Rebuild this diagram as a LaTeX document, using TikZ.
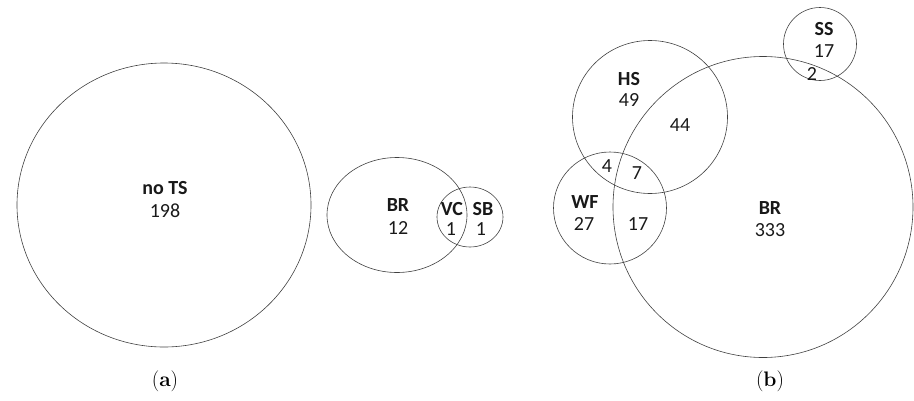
\documentclass[tikz,border=0pt]{standalone}
\usepackage{fontspec}
\newfontfamily\lblfont{Carlito}
\usetikzlibrary{shapes.geometric}
\tikzset{
  setline/.style={draw=black!75, line width=0.6pt, ellipse, inner sep=0pt, outer sep=0pt},
  lbl/.style={font=\lblfont\fontsize{20}{23}\selectfont, inner sep=0pt, anchor=center, text=black!90},
  blbl/.style={lbl, font=\lblfont\bfseries\fontsize{20}{23}\selectfont},
  captxt/.style={font=\fontsize{21}{24}\selectfont, inner sep=0pt}
}
\begin{document}
\begin{tikzpicture}[x=1pt,y=-1pt]
\useasboundingbox (0,0) rectangle (914,400);
% (a)
\node[setline, minimum width=294pt, minimum height=284pt] (noTS) at (164,205) {};
\node[setline, minimum width=140pt, minimum height=115pt] (BRa) at (397,215) {};
\node[setline, minimum width=66pt, minimum height=60pt] (VCSB) at (470,217) {};
\node[blbl] (tnoTS) at (165,188) {no TS};
\node[lbl] (n198) at (165,211) {198};
\node[blbl] (tBRa) at (398,205) {BR};
\node[lbl] (n12) at (398,228) {12};
\node[blbl] (tVC) at (452,209) {VC};
\node[blbl] (tSB) at (483,209) {SB};
\node[lbl] (n1a) at (451,229) {1};
\node[lbl] (n1b) at (481,229) {1};
\node[captxt] (capa) at (165,381) {(\textbf{a})};
% (b)
\node[setline, minimum width=300pt, minimum height=301pt] (BRb) at (763,207) {};
\node[setline, minimum width=155pt, minimum height=153pt] (HS) at (650,117) {};
\node[setline, minimum width=113pt, minimum height=112pt] (WF) at (610,208) {};
\node[setline, minimum width=73pt, minimum height=73pt] (SS) at (820,44) {};
\node[blbl] (tSS) at (824,29) {SS};
\node[lbl] (n17s) at (824,51) {17};
\node[lbl] (n2) at (812,74) {2};
\node[blbl] (tHS) at (629,79) {HS};
\node[lbl] (n49) at (629,100) {49};
\node[lbl] (n44) at (680,125) {44};
\node[lbl] (n4) at (607,166) {4};
\node[lbl] (n7) at (637,173) {7};
\node[blbl] (tWF) at (585,202) {WF};
\node[lbl] (n27) at (584,224) {27};
\node[lbl] (n17w) at (638,224) {17};
\node[blbl] (tBRb) at (770,208) {BR};
\node[lbl] (n333) at (770,230) {333};
\node[captxt] (capb) at (770,381) {(\textbf{b})};
\end{tikzpicture}
\end{document}
